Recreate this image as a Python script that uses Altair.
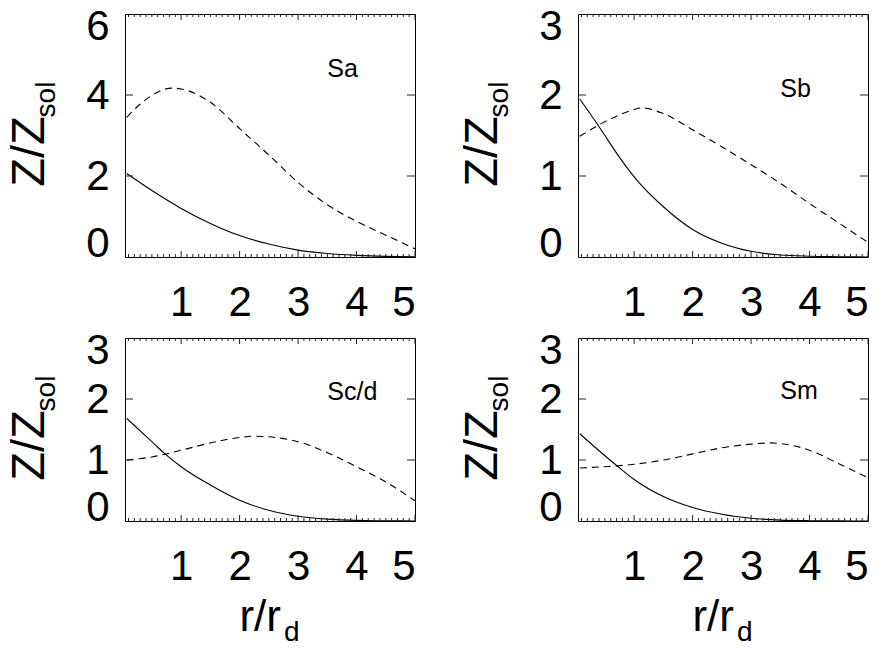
import altair as alt
import pandas as pd

# ---------------- data ----------------
sa_solid_x = [0.07, 0.5, 1.0, 1.5, 2.0, 2.5, 3.0, 3.5, 4.0, 4.5, 5.0]
sa_solid_y = [2.06, 1.64, 1.20, 0.83, 0.53, 0.32, 0.17, 0.085, 0.04, 0.015, 0.005]
sa_dash_x = [0.07, 0.25, 0.5, 0.84, 1.0, 1.5, 2.0, 2.5, 3.0, 3.5, 4.0, 4.5, 5.0]
sa_dash_y = [3.45, 3.71, 3.99, 4.17, 4.15, 3.82, 3.17, 2.52, 1.84, 1.29, 0.88, 0.54, 0.20]

sb_solid_x = [0.07, 0.38, 0.5, 0.75, 1.0, 1.5, 2.0, 2.5, 3.0, 3.5, 4.0, 4.5, 5.0]
sb_solid_y = [1.95, 1.63, 1.50, 1.23, 0.99, 0.62, 0.34, 0.17, 0.07, 0.025, 0.01, 0.004, 0.0]
sb_dash_x = [0.07, 0.5, 1.0, 1.13, 1.5, 2.0, 2.5, 3.0, 3.5, 4.0, 4.5, 5.0]
sb_dash_y = [1.49, 1.67, 1.82, 1.84, 1.77, 1.57, 1.36, 1.14, 0.91, 0.66, 0.42, 0.18]

sc_solid_x = [0.07, 0.5, 0.7, 1.0, 1.5, 2.0, 2.5, 3.0, 3.5, 4.0, 4.5, 5.0]
sc_solid_y = [1.68, 1.30, 1.12, 0.89, 0.59, 0.34, 0.175, 0.077, 0.03, 0.01, 0.004, 0.0]
sc_dash_x = [0.07, 0.5, 1.0, 1.5, 2.0, 2.25, 2.5, 3.0, 3.5, 4.0, 4.5, 5.0]
sc_dash_y = [1.00, 1.05, 1.16, 1.28, 1.37, 1.39, 1.38, 1.30, 1.12, 0.89, 0.64, 0.33]

sm_solid_x = [0.07, 0.5, 0.7, 1.0, 1.5, 2.0, 2.5, 3.0, 3.5, 4.0, 4.5, 5.0]
sm_solid_y = [1.43, 1.07, 0.91, 0.68, 0.40, 0.22, 0.11, 0.045, 0.015, 0.005, 0.002, 0.0]
sm_dash_x = [0.07, 0.5, 1.0, 1.5, 2.0, 2.5, 3.0, 3.35, 3.5, 4.0, 4.5, 5.0]
sm_dash_y = [0.87, 0.89, 0.93, 1.00, 1.10, 1.20, 1.26, 1.28, 1.27, 1.16, 0.94, 0.71]

panel_names = ["Sa", "Sb", "Sc/d", "Sm"]
panel_label_x = [3.5, 3.5, 3.5, 3.5]
panel_label_y = [4.44, 1.975, 1.98, 2.0]
panel_ymax = [6, 3, 3, 3]
panel_yticks = [[0, 2, 4, 6], [0, 1, 2, 3], [0, 1, 2, 3], [0, 1, 2, 3]]
x_ticks = [1, 2, 3, 4, 5]
x_minor_ticks = [round(0.1 * i, 1) for i in range(1, 50) if i % 10 != 0]

solid = {"Sa": (sa_solid_x, sa_solid_y), "Sb": (sb_solid_x, sb_solid_y),
         "Sc/d": (sc_solid_x, sc_solid_y), "Sm": (sm_solid_x, sm_solid_y)}
dashed = {"Sa": (sa_dash_x, sa_dash_y), "Sb": (sb_dash_x, sb_dash_y),
          "Sc/d": (sc_dash_x, sc_dash_y), "Sm": (sm_dash_x, sm_dash_y)}

FONT = "Liberation Sans"
W = 290
HEIGHTS = [243, 243, 183, 183]


def panel(i):
    name = panel_names[i]
    h = HEIGHTS[i]
    ymax = panel_ymax[i]
    bottom_row = i >= 2

    xenc = alt.X("x:Q", title=None,
                 scale=alt.Scale(domain=[0.04, 5], nice=False, zero=False),
                 axis=alt.Axis(values=x_ticks, format="d", labelPadding=25,
                               labelOverlap=False))
    yenc = alt.Y("y:Q", title=None,
                 scale=alt.Scale(domain=[0, ymax], nice=False, zero=False),
                 axis=alt.Axis(values=panel_yticks[i], format="d", labelFlush=True,
                               labelFlushOffset=8, labelPadding=16,
                               labelOverlap=False))

    sx, sy = solid[name]
    dx, dy = dashed[name]
    df_s = pd.DataFrame({"x": sx, "y": sy})
    df_d = pd.DataFrame({"x": dx, "y": dy})

    line_s = alt.Chart(df_s).mark_line(color="black", strokeWidth=1.1,
                                       interpolate="monotone").encode(x=xenc, y=yenc)
    line_d = alt.Chart(df_d).mark_line(color="black", strokeWidth=1.1, strokeDash=[7, 5],
                                       interpolate="monotone").encode(x=xenc, y=yenc)

    # inward tick marks
    df_xt = pd.DataFrame({"x": x_ticks})
    df_xm = pd.DataFrame({"x": x_minor_ticks})
    df_yt = pd.DataFrame({"y": panel_yticks[i][1:-1]})
    tick_style = dict(color="#222222", strokeWidth=1)
    xt_b = alt.Chart(df_xt).mark_rule(**tick_style).encode(
        x=xenc, y=alt.value(h), y2=alt.value(h - 6))
    xt_t = alt.Chart(df_xt).mark_rule(**tick_style).encode(
        x=xenc, y=alt.value(0), y2=alt.value(6))
    xm_b = alt.Chart(df_xm).mark_rule(**tick_style).encode(
        x=xenc, y=alt.value(h), y2=alt.value(h - 3))
    xm_t = alt.Chart(df_xm).mark_rule(**tick_style).encode(
        x=xenc, y=alt.value(0), y2=alt.value(3))
    yt_l = alt.Chart(df_yt).mark_rule(**tick_style).encode(
        y=yenc, x=alt.value(0), x2=alt.value(8))
    yt_r = alt.Chart(df_yt).mark_rule(**tick_style).encode(
        y=yenc, x=alt.value(W - 8), x2=alt.value(W))

    df_lab = pd.DataFrame({"x": [panel_label_x[i]], "y": [panel_label_y[i]],
                           "label": [name]})
    lab = alt.Chart(df_lab).mark_text(font=FONT, fontSize=25, align="left",
                                      baseline="alphabetic", color="black").encode(
        x=xenc, y=yenc, text="label:N")

    one = pd.DataFrame({"k": [0]})
    yt1 = alt.Chart(one).mark_text(text="Z/Z", font=FONT, fontSize=47, angle=270,
                                   align="center", baseline="alphabetic",
                                   color="black").encode(
        x=alt.value(-81), y=alt.value(h / 2 + 16))
    yt2 = alt.Chart(one).mark_text(text="sol", font=FONT, fontSize=28, angle=270,
                                   align="center", baseline="alphabetic",
                                   color="black").encode(
        x=alt.value(-70), y=alt.value(h / 2 - 36))

    layers = [line_s, line_d, xt_b, xt_t, xm_b, xm_t, yt_l, yt_r, lab, yt1, yt2]
    if bottom_row:
        xt1 = alt.Chart(one).mark_text(text="r/r", font=FONT, fontSize=44,
                                       align="right", baseline="alphabetic",
                                       color="black").encode(
            x=alt.value(W / 2 + 11), y=alt.value(h + 110))
        xt2 = alt.Chart(one).mark_text(text="d", font=FONT, fontSize=28,
                                       align="left", baseline="alphabetic",
                                       color="black").encode(
            x=alt.value(W / 2 + 14), y=alt.value(h + 120))
        layers += [xt1, xt2]

    return alt.layer(*layers).properties(width=W, height=h)


chart = alt.concat(
    panel(0), panel(1), panel(2), panel(3),
    columns=2,
    spacing=alt.RowColnumber(row=81, column=163),
    bounds="flush",
).configure_view(
    stroke="black", strokeWidth=1
).configure_axis(
    labelFont=FONT, labelFontSize=42, labelColor="black",
    grid=False, ticks=False, domain=False
).properties(
    background="white",
    padding={"left": 5, "top": 4, "right": 5, "bottom": 2}
)

chart.save("out.html", embed_options={"renderer": "svg", "actions": False})
